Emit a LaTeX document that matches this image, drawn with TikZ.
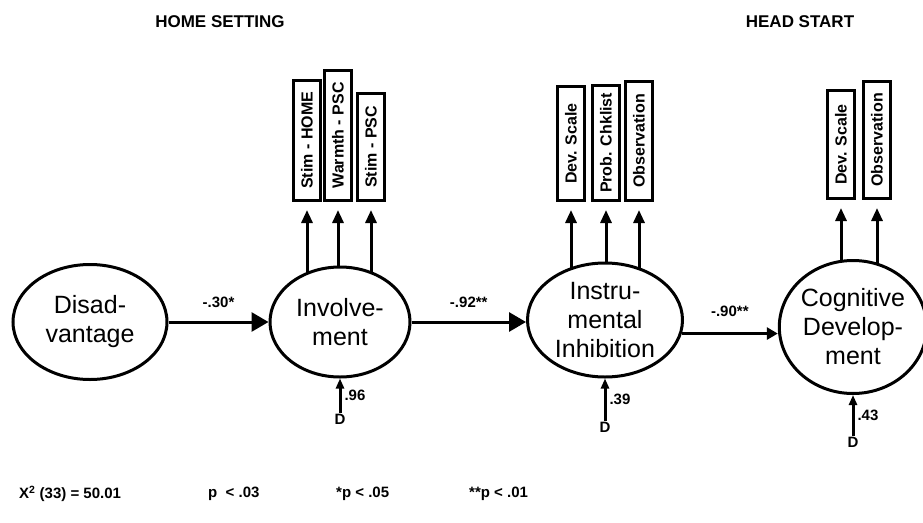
\documentclass[tikz,border=0pt]{standalone}
\usepackage{graphicx}
\usepackage{fontspec}
\setmainfont{Liberation Sans}
\usepackage{tikz}
\usetikzlibrary{arrows.meta,positioning,shapes.geometric,backgrounds}

\begin{document}
\begin{tikzpicture}[x=1pt, y=-1pt, every node/.style={font=\bfseries\fontsize{15}{17}\selectfont, inner sep=1pt}, latent/.style={ellipse,draw,line width=3pt,fill=white,align=center,inner sep=0pt,font=\fontsize{25}{29}\selectfont}, ind/.style={draw,line width=3.2pt,minimum width=27pt,inner sep=1pt,anchor=south,font=\bfseries\fontsize{16}{18}\selectfont}, line/.style={-{Triangle[length=17pt,width=19pt]},line width=3pt}, thin line/.style={-{Triangle[length=11pt,width=12pt]},line width=3pt}, up/.style={-{Triangle[length=13pt,width=11pt]},line width=3pt,shorten >=8pt}, dist/.style={-{Triangle[length=10pt,width=8pt]},line width=3pt}, head/.style={font=\bfseries\fontsize{17}{19}\selectfont}]
\useasboundingbox (0,0) rectangle (923,522);
\node[head] (home) at (220,22) {HOME SETTING};
\node[head] (hs) at (800,22) {HEAD START};
\node[latent,minimum width=154pt,minimum height=115pt] (dis) at (90,322) {Disad-\\vantage};
\node[latent,minimum width=140pt,minimum height=110pt] (inv) at (340,322) {Involve-\\ment};
\node[latent,minimum width=155pt,minimum height=114pt] (ins) at (605,320) {Instru-\\mental\\Inhibition};
\node[latent,minimum width=140pt,minimum height=133pt] (cog) at (853,327) {Cognitive\\Develop-\\ment};
\node[ind,minimum height=120pt] (stimhome) at (307,202) {\rotatebox{90}{Stim - HOME}};
\node[ind,minimum height=130pt] (warmth) at (338,202) {\rotatebox{90}{Warmth - PSC}};
\node[ind,minimum height=107pt] (stimpsc) at (371,202) {\rotatebox{90}{Stim - PSC}};
\node[ind,minimum height=114pt] (devins) at (571,202) {\rotatebox{90}{Dev. Scale}};
\node[ind,minimum height=115pt] (prob) at (606,202) {\rotatebox{90}{Prob. Chklist}};
\node[ind,minimum height=119pt] (obsins) at (639,202) {\rotatebox{90}{Observation}};
\node[ind,minimum height=108pt] (devcog) at (841,200) {\rotatebox{90}{Dev. Scale}};
\node[ind,minimum height=117pt] (obscog) at (877,200) {\rotatebox{90}{Observation}};
\node[below=34pt of inv] (dinv) {D};
\node[below=42pt of ins] (dins) {D};
\node[below=41pt of cog] (dcog) {D};
\begin{scope}[on background layer]
\foreach \b/\e in {stimhome/inv,warmth/inv,stimpsc/inv,devins/ins,prob/ins,obsins/ins,devcog/cog,obscog/cog}
  \draw[up] (\b.south |- \e.center) -- (\b.south);
\end{scope}
\draw[line] (dis) -- node[above=12pt] {-.30*} (inv);
\draw[line] (inv.east) -- node[above=12pt] {-.92**} (inv.east -| ins.west);
\draw[thin line] (ins.-10) -- node[above=14pt] {-.90**} (ins.-10 -| cog.west);
\draw[dist] (dinv) -- node[right=2pt] {.96} (inv);
\draw[dist] (dins) -- node[right=2pt] {.39} (ins);
\draw[dist] (dcog) -- node[right=2pt] {.43} (cog);
\node[anchor=west] (chi) at (18,494) {X\textsuperscript{2} (33) = 50.01};
\node[anchor=west] (pval) at (207,494) {p \ < .03};
\node[anchor=west] (p05) at (335,494) {*p < .05};
\node[anchor=west] (p01) at (468,494) {**p < .01};
\end{tikzpicture}
\end{document}
